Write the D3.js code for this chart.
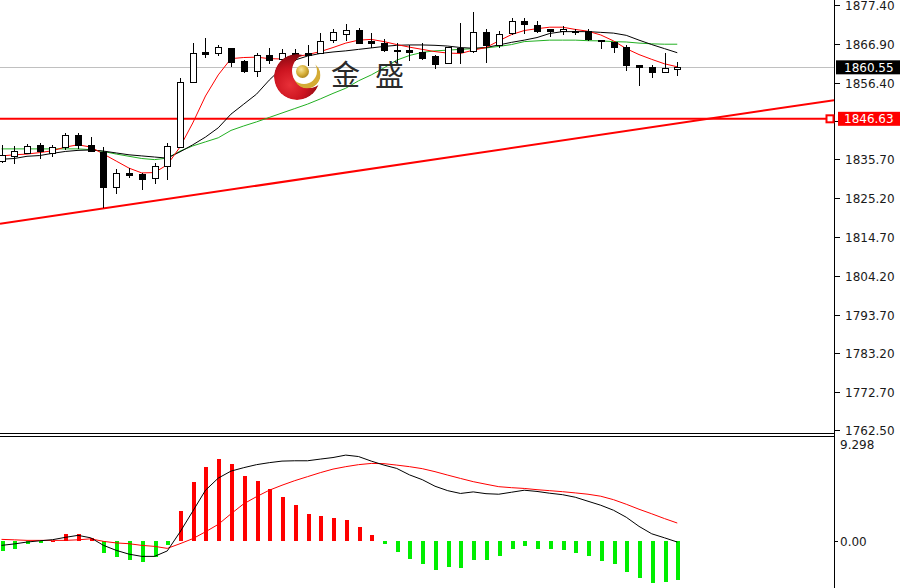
<!DOCTYPE html>
<html><head><meta charset="utf-8">
<script src="https://cdn.jsdelivr.net/npm/d3@7"></script>
<style>body{margin:0;background:#fff;overflow:hidden}svg{display:block}</style>
</head><body>
<svg id="c" width="903" height="588"></svg>
<script>
// ---------- DATA ----------
const opens  = [1835.3,1836.6,1837.5,1839.6,1837.5,1838.9,1842.3,1839.6,1837.7,1828.1,1832.1,1831.7,1830.6,1833.9,1839.1,1856.7,1864.8,1864.5,1865.7,1862.3,1859.6,1863.9,1862.7,1864.5,1864.4,1864.5,1867.9,1869.5,1870.6,1867.7,1867.2,1865.2,1865.2,1864.8,1863.6,1861.6,1865.9,1865.0,1870.2,1866.6,1869.8,1873.2,1872.0,1870.8,1870.5,1870.5,1870.4,1867.9,1867.5,1866.1,1861.2,1860.6,1859.2,1860.2];
const highs  = [1839.6,1839.3,1839.8,1840.1,1839.6,1842.8,1842.8,1841.8,1839.1,1833.0,1833.3,1831.9,1834.6,1840.2,1857.6,1867.2,1868.4,1866.6,1865.9,1862.5,1864.3,1865.7,1865.4,1865.5,1866.6,1869.8,1870.8,1872.2,1871.1,1869.8,1868.1,1867.0,1866.6,1867.0,1863.9,1866.0,1872.6,1875.6,1870.8,1870.5,1873.8,1873.8,1873.2,1870.9,1871.7,1870.9,1870.8,1868.0,1867.5,1866.6,1861.2,1861.2,1864.3,1862.1];
const lows   = [1835.0,1834.7,1837.4,1836.1,1836.6,1838.5,1838.8,1838.0,1822.7,1826.7,1831.0,1827.6,1829.2,1830.3,1838.9,1856.5,1863.4,1863.9,1860.9,1859.3,1858.2,1861.7,1861.7,1862.5,1861.2,1864.3,1867.5,1867.9,1867.0,1866.1,1865.0,1862.1,1862.5,1862.7,1860.3,1861.6,1861.6,1864.8,1862.1,1866.0,1869.6,1869.8,1870.2,1869.0,1869.6,1869.6,1867.9,1865.7,1864.8,1859.8,1855.8,1857.9,1859.2,1858.5];
const closes = [1836.9,1837.8,1839.3,1837.8,1839.1,1842.3,1839.6,1838.0,1828.3,1832.1,1831.5,1830.3,1833.9,1839.3,1856.7,1864.5,1864.2,1866.0,1862.1,1859.6,1863.9,1862.5,1864.5,1863.5,1863.9,1867.7,1870.2,1870.6,1867.2,1867.2,1865.2,1865.0,1864.8,1863.0,1861.4,1866.0,1864.8,1870.2,1866.6,1869.6,1873.2,1872.2,1870.5,1870.5,1870.8,1870.0,1868.1,1867.6,1866.1,1861.2,1860.7,1859.2,1860.3,1860.55];
const maFast = [1836.6,1836.9,1837.1,1837.5,1838.0,1839.0,1839.6,1839.0,1837.1,1835.2,1833.3,1832.0,1832.1,1834.2,1839.0,1845.5,1852.8,1858.5,1862.9,1863.2,1863.3,1862.9,1862.8,1863.3,1864.0,1864.8,1865.9,1867.1,1867.9,1868.1,1867.5,1866.7,1866.0,1865.4,1864.8,1864.4,1864.3,1865.2,1865.9,1867.7,1869.4,1870.5,1871.0,1871.4,1871.4,1870.8,1870.3,1869.3,1867.7,1865.6,1864.0,1862.7,1861.5,1860.7];
const maMid  = [1835.7,1835.9,1836.5,1836.7,1837.3,1837.8,1838.1,1838.2,1837.9,1837.4,1836.9,1836.6,1836.3,1836.0,1837.7,1839.6,1841.7,1844.2,1847.9,1850.6,1853.3,1857.1,1860.4,1862.5,1863.6,1864.3,1864.7,1865.0,1865.4,1865.8,1866.2,1866.5,1866.6,1866.6,1866.5,1866.3,1865.9,1865.7,1865.9,1866.6,1867.3,1867.9,1868.6,1869.7,1870.2,1870.2,1870.2,1870.0,1869.8,1869.2,1867.9,1866.7,1865.6,1864.5];
const maSlow = [1838.5,1838.5,1838.5,1838.5,1838.5,1838.5,1838.5,1838.3,1837.8,1837.1,1836.5,1835.9,1835.6,1836.0,1837.9,1839.3,1840.4,1841.5,1843.5,1844.7,1845.8,1847.0,1848.2,1849.4,1850.6,1852.0,1853.5,1854.9,1856.9,1858.5,1860.4,1862.5,1863.75,1864.6,1865.0,1865.2,1865.4,1865.6,1865.8,1866.2,1866.7,1867.5,1867.7,1867.9,1867.9,1867.9,1867.75,1867.7,1867.5,1867.4,1867.1,1866.9,1866.8,1866.8];
const histo  = [-0.88,-0.66,-0.21,-0.12,0.03,0.63,0.63,0.33,-1.06,-1.42,-1.65,-1.87,-1.42,-0.36,2.71,5.35,6.71,7.37,6.95,5.87,5.44,4.67,4.00,3.25,2.50,2.26,2.14,1.96,1.29,0.54,-0.27,-0.97,-1.56,-2.01,-2.55,-2.32,-2.37,-1.65,-1.65,-1.35,-0.66,-0.45,-0.66,-0.66,-0.81,-1.02,-1.35,-1.78,-2.08,-2.77,-3.31,-3.76,-3.67,-3.46];
const macdLine = [-0.36,-0.23,-0.06,0.05,0.15,0.36,0.54,0.32,-0.36,-0.81,-1.15,-1.35,-1.35,-0.86,0.84,2.71,4.60,5.69,6.32,6.63,6.90,7.08,7.22,7.25,7.25,7.40,7.54,7.76,7.63,7.22,6.86,6.56,5.98,5.55,4.96,4.56,4.31,4.45,4.29,4.24,4.42,4.60,4.49,4.33,4.20,3.97,3.61,3.25,2.80,2.17,1.35,0.68,0.32,-0.06];
const signalLine = [0.18,0.14,0.09,0.09,0.09,0.09,0.14,0.23,0.00,-0.14,-0.21,-0.36,-0.45,-0.63,-0.21,0.24,0.86,1.53,2.48,3.38,4.02,4.60,5.05,5.46,5.82,6.18,6.50,6.72,6.90,7.01,6.99,6.86,6.72,6.54,6.27,5.96,5.66,5.37,5.14,4.92,4.83,4.76,4.65,4.56,4.47,4.36,4.24,4.06,3.75,3.34,2.89,2.48,2.05,1.65];
const priceTicks = [1877.40,1866.90,1856.40,1835.70,1825.20,1814.70,1804.20,1793.70,1783.20,1772.70,1762.50];
const hiddenTick = 1846.05;
const priceMin = 1762.50, priceMax = 1877.40;
const macdTop = 9.298, macdBottom = -4.5;
const macdTicks = [0];
const currentPrice = 1860.55;
const levelPrice = 1846.63;
const trendAnchors = [[8,1822.4],[53,1845.4]];
const logoText = "金盛";

// ---------- LAYOUT ----------
const W = 903, H = 588, axisX = 834, mainBottom = 433;
const svg = d3.select("#c");
const n = opens.length;
const x = d3.scaleLinear().domain([0, n-1]).range([1.5, 677.25]);
const y = d3.scaleLinear().domain([priceMin, priceMax]).range([430, 5]);
const ym = d3.scaleLinear().domain([macdBottom, macdTop]).range([591.4, 438]);
const font = "'DejaVu Sans', Verdana, sans-serif";

const defs = svg.append("defs");
defs.append("clipPath").attr("id","mainClip").append("rect").attr("x",0).attr("y",0).attr("width",axisX).attr("height",mainBottom);
defs.append("clipPath").attr("id","subClip").append("rect").attr("x",0).attr("y",438).attr("width",axisX).attr("height",H-438);

const rg = defs.append("radialGradient").attr("id","redG").attr("gradientUnits","userSpaceOnUse")
  .attr("cx",290).attr("cy",85).attr("r",30);
rg.append("stop").attr("offset","0%").attr("stop-color","#e83038");
rg.append("stop").attr("offset","55%").attr("stop-color","#cc1420");
rg.append("stop").attr("offset","100%").attr("stop-color","#8c0a12");
const gg = defs.append("radialGradient").attr("id","goldG").attr("cx","40%").attr("cy","35%").attr("r","70%");
gg.append("stop").attr("offset","0%").attr("stop-color","#f6e49a");
gg.append("stop").attr("offset","55%").attr("stop-color","#d9b23c");
gg.append("stop").attr("offset","100%").attr("stop-color","#a8801a");

const redMask = defs.append("mask").attr("id","redMask").attr("maskUnits","userSpaceOnUse")
  .attr("x",0).attr("y",0).attr("width",W).attr("height",H);
redMask.append("circle").attr("cx",297).attr("cy",77).attr("r",23).attr("fill","#fff");
redMask.append("circle").attr("cx",309).attr("cy",71).attr("r",17).attr("fill","#000");
const goldMask = defs.append("mask").attr("id","goldMask").attr("maskUnits","userSpaceOnUse")
  .attr("x",0).attr("y",0).attr("width",W).attr("height",H);
goldMask.append("circle").attr("cx",307).attr("cy",75).attr("r",13.5).attr("fill","#fff");
goldMask.append("circle").attr("cx",304).attr("cy",71).attr("r",13).attr("fill","#000");

const main = svg.append("g").attr("clip-path","url(#mainClip)");

// current price line
main.append("line").attr("x1",0).attr("x2",axisX).attr("y1",Math.round(y(currentPrice))+0.5).attr("y2",Math.round(y(currentPrice))+0.5)
  .attr("stroke","#c0c0c0").attr("stroke-width",1);

// horizontal level
main.append("line").attr("x1",0).attr("x2",axisX).attr("y1",y(levelPrice)).attr("y2",y(levelPrice))
  .attr("stroke","#ff0000").attr("stroke-width",2);

// trend line extended across
const [a0,a1] = trendAnchors;
const slope = (a1[1]-a0[1])/(a1[0]-a0[0]);
const iL = x.invert(0), iR = x.invert(axisX);
main.append("line")
  .attr("x1",x(iL)).attr("y1",y(a0[1]+slope*(iL-a0[0])))
  .attr("x2",x(iR)).attr("y2",y(a0[1]+slope*(iR-a0[0])))
  .attr("stroke","#ff0000").attr("stroke-width",2);

// MA lines
const lineGen = arr => d3.line().x((d,i)=>x(i)).y(d=>y(d))(arr);
main.append("path").attr("d",lineGen(maSlow)).attr("fill","none").attr("stroke","#22b022").attr("stroke-width",1);
main.append("path").attr("d",lineGen(maMid)).attr("fill","none").attr("stroke","#000").attr("stroke-width",1);
main.append("path").attr("d",lineGen(maFast)).attr("fill","none").attr("stroke","#ff0000").attr("stroke-width",1);

// candles
const candles = main.append("g").attr("shape-rendering","crispEdges");
d3.range(n).forEach(i=>{
  const cx = Math.round(x(i));
  const o=opens[i], c=closes[i], h=highs[i], l=lows[i];
  const bull = c >= o;
  candles.append("line").attr("x1",cx+0.5).attr("x2",cx+0.5)
    .attr("y1",Math.round(y(h))).attr("y2",Math.round(y(l))+1).attr("stroke","#000").attr("stroke-width",1);
  const top = Math.round(y(Math.max(o,c))), bot = Math.round(y(Math.min(o,c)));
  const hgt = Math.max(1, bot-top);
  candles.append("rect").attr("x",cx-2.5).attr("y",top+0.5).attr("width",6).attr("height",hgt)
    .attr("fill", bull ? "#fff" : "#000").attr("stroke","#000").attr("stroke-width",1);
});

// logo watermark
const logo = svg.append("g");
logo.append("circle").attr("cx",297).attr("cy",77).attr("r",23).attr("fill","url(#redG)").attr("mask","url(#redMask)");
logo.append("circle").attr("cx",307).attr("cy",75).attr("r",13.5).attr("fill","#d4ab35").attr("mask","url(#goldMask)");
logo.append("circle").attr("cx",302.5).attr("cy",71.5).attr("r",6.5).attr("fill","url(#goldG)");
logo.append("text").attr("x",331).attr("y",86).attr("font-family","'Noto Sans CJK SC', sans-serif")
  .attr("font-size",29).attr("letter-spacing",15).attr("fill","#2a2a2a").text(logoText);

// panel separator
svg.append("line").attr("x1",0).attr("x2",axisX+1).attr("y1",433.5).attr("y2",433.5).attr("stroke","#000");
svg.append("line").attr("x1",0).attr("x2",axisX+1).attr("y1",436.5).attr("y2",436.5).attr("stroke","#000");

// MACD panel
const sub = svg.append("g").attr("clip-path","url(#subClip)");
const z0 = ym(0);
sub.append("g").attr("shape-rendering","crispEdges").selectAll("rect").data(histo).join("rect")
  .attr("x",(d,i)=>Math.round(x(i))-1.5).attr("width",4)
  .attr("y",d=> d>=0 ? ym(d) : z0).attr("height",d=>Math.max(1,Math.abs(ym(d)-z0)))
  .attr("fill",d=> d>=0 ? "#ff0000" : "#00ee00");
const mLine = arr => d3.line().x((d,i)=>x(i)).y(d=>ym(d))(arr);
sub.append("path").attr("d",mLine(signalLine)).attr("fill","none").attr("stroke","#ff0000").attr("stroke-width",1);
sub.append("path").attr("d",mLine(macdLine)).attr("fill","none").attr("stroke","#000").attr("stroke-width",1);

// right axis
svg.append("line").attr("x1",axisX+0.5).attr("x2",axisX+0.5).attr("y1",0).attr("y2",H).attr("stroke","#000");
const axisG = svg.append("g");
priceTicks.forEach(t=>{
  const ty = Math.round(y(t))+0.5;
  axisG.append("line").attr("x1",axisX).attr("x2",axisX+6).attr("y1",ty).attr("y2",ty).attr("stroke","#000");
  axisG.append("text").attr("x",845).attr("y",ty).attr("dy","0.36em").attr("font-family",font).attr("font-size",12)
    .attr("fill","#1a1a1a").text(d3.format(".2f")(t));
});
{
  const ty = Math.round(y(hiddenTick))+0.5;
  axisG.append("line").attr("x1",axisX).attr("x2",axisX+6).attr("y1",ty).attr("y2",ty).attr("stroke","#000");
}
macdTicks.forEach(t=>{
  const ty = Math.round(ym(t))+0.5;
  axisG.append("line").attr("x1",axisX).attr("x2",axisX+4).attr("y1",ty).attr("y2",ty).attr("stroke","#000");
  axisG.append("text").attr("x",840).attr("y",ty).attr("dy","0.36em").attr("font-family",font).attr("font-size",12)
    .attr("fill","#1a1a1a").text(d3.format(".2f")(t));
});
axisG.append("text").attr("x",840).attr("y",ym(macdTop)+7).attr("dy","0.36em").attr("font-family",font).attr("font-size",12)
  .attr("fill","#1a1a1a").text(d3.format(".3f")(macdTop));

// current price label
const cpY = y(currentPrice);
svg.append("rect").attr("x",836).attr("y",cpY-7).attr("width",64).attr("height",14).attr("fill","#000");
svg.append("text").attr("x",844).attr("y",cpY).attr("dy","0.36em").attr("font-family",font).attr("font-size",12)
  .attr("fill","#fff").text(d3.format(".2f")(currentPrice));

// level label
const lvY = y(levelPrice);
svg.append("rect").attr("x",838).attr("y",lvY-7).attr("width",62).attr("height",14).attr("fill","#ff0000");
svg.append("text").attr("x",844).attr("y",lvY).attr("dy","0.36em").attr("font-family",font).attr("font-size",12)
  .attr("fill","#fff").text(d3.format(".2f")(levelPrice));
svg.append("rect").attr("x",826.5).attr("y",lvY-3.5).attr("width",7).attr("height",7).attr("fill","#fff").attr("stroke","#ff0000").attr("stroke-width",2);
</script>
</body></html>
